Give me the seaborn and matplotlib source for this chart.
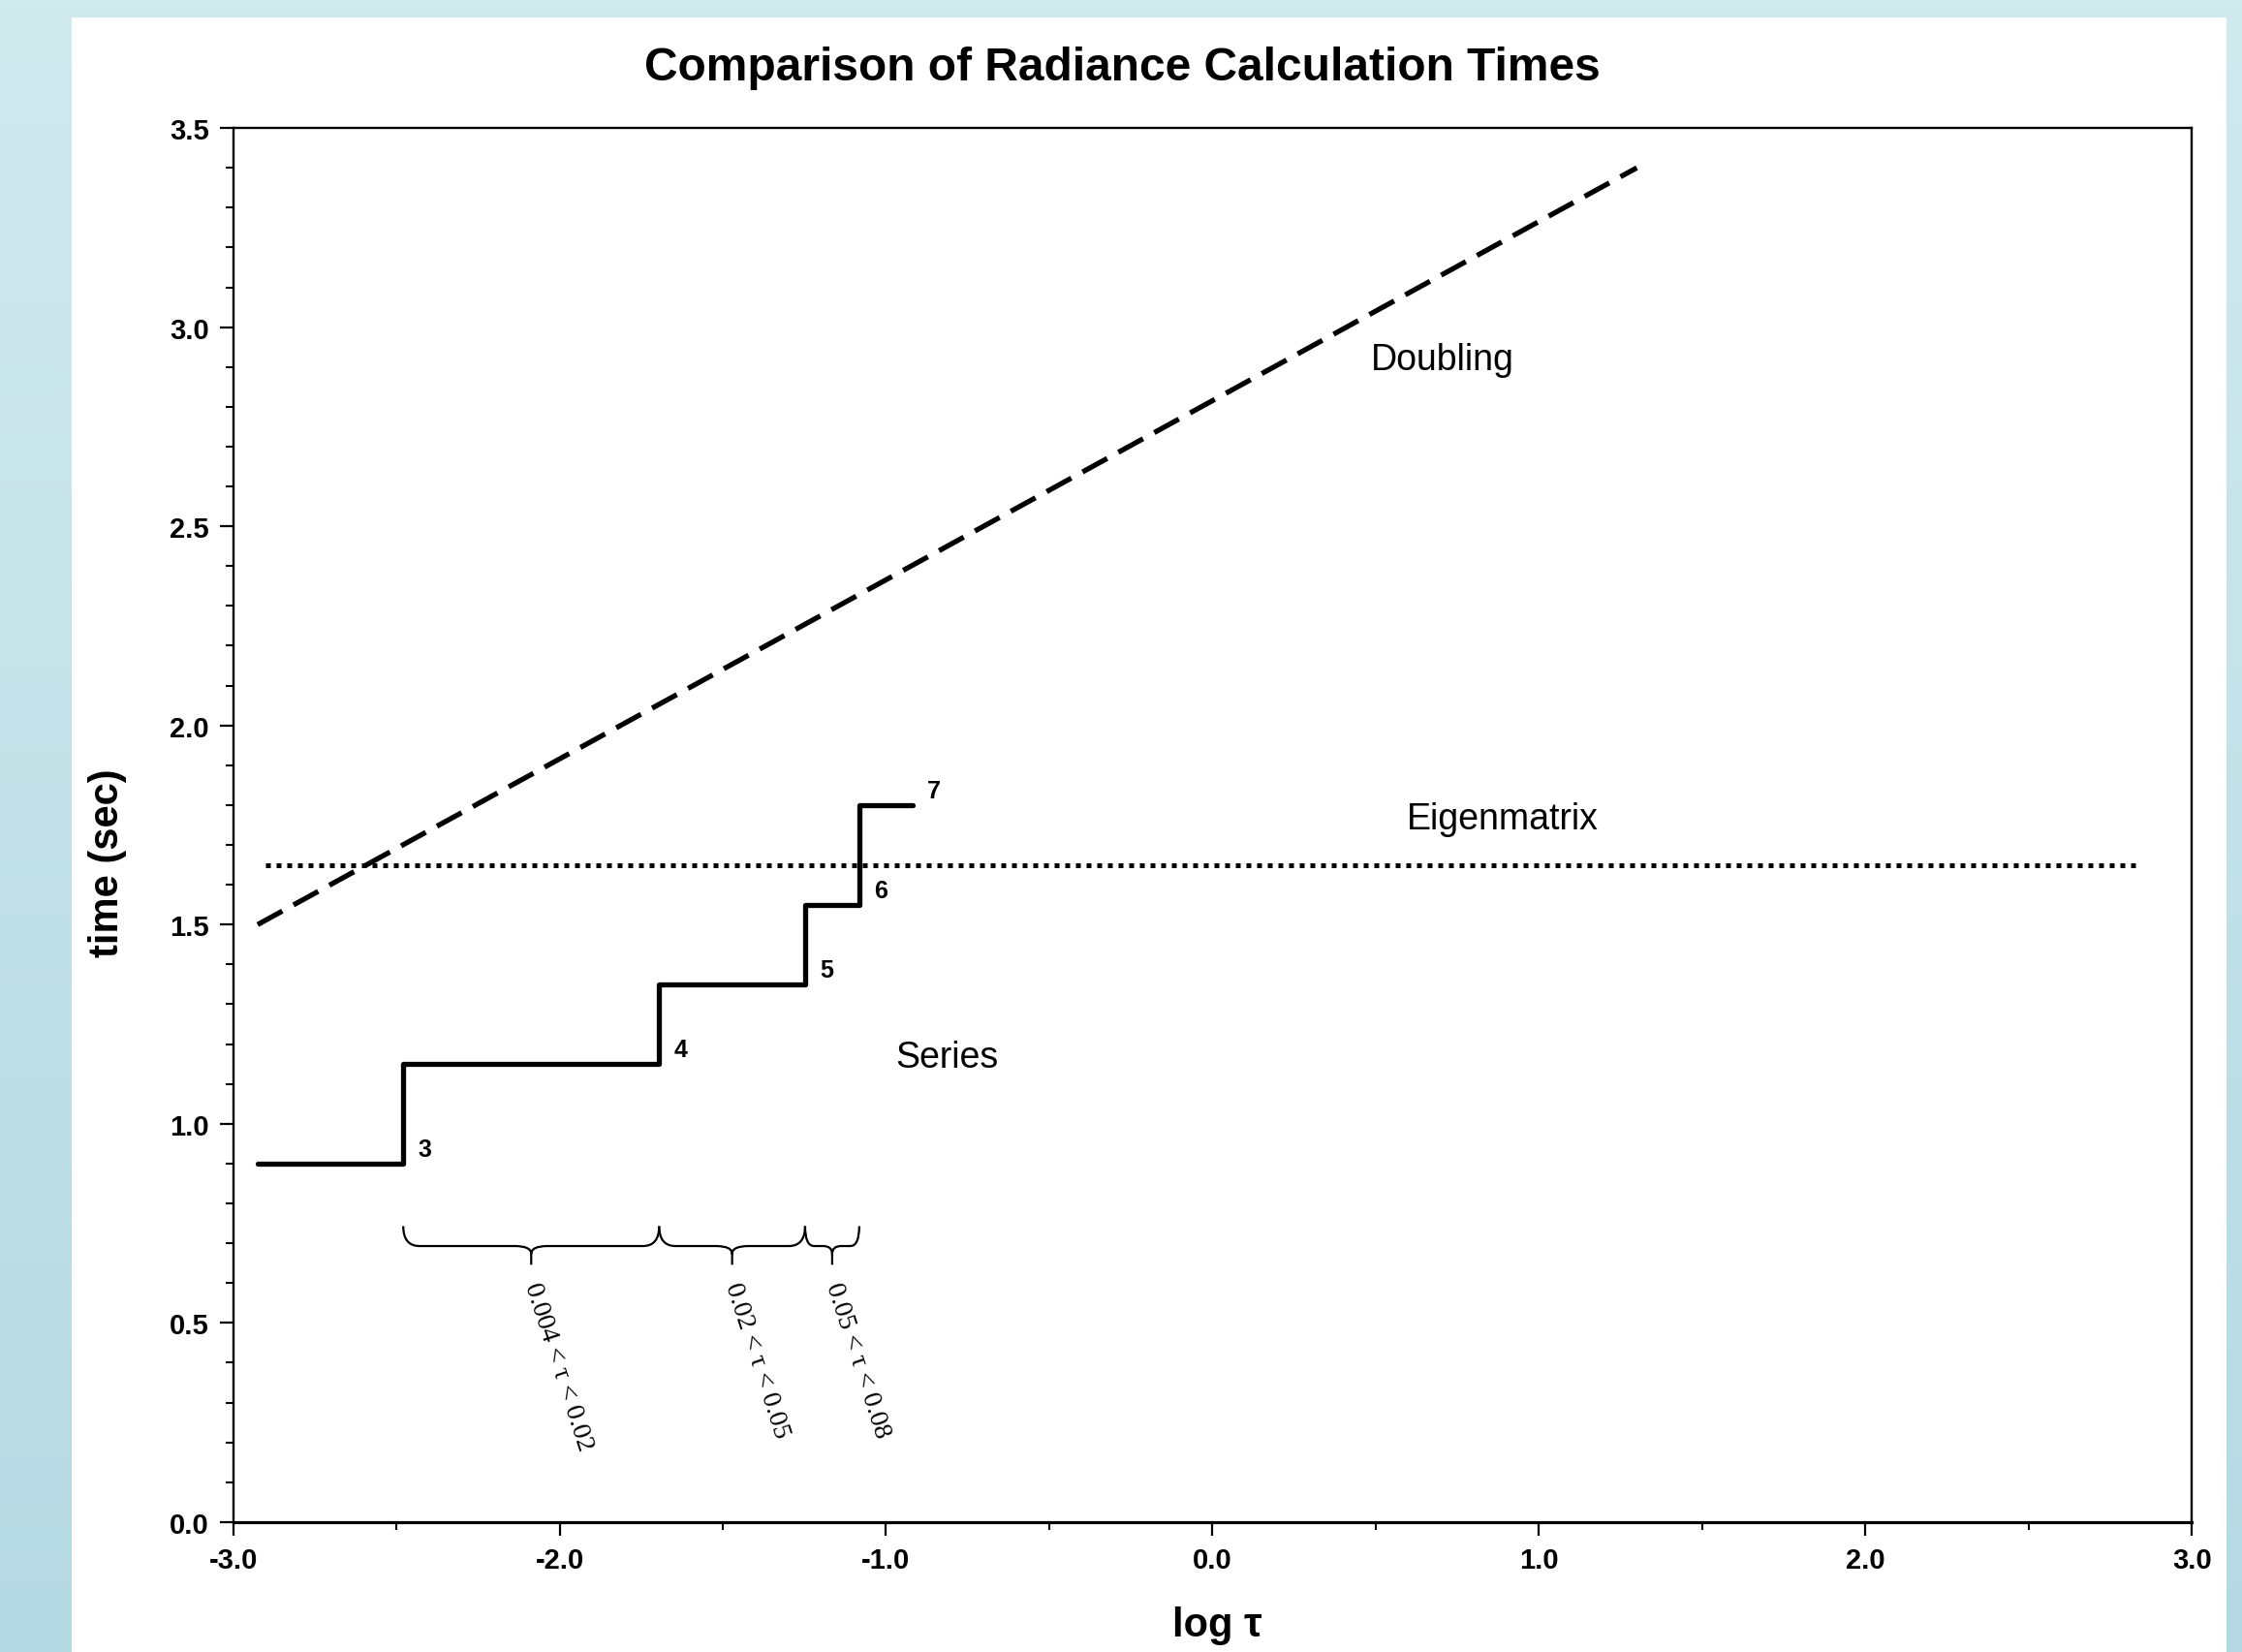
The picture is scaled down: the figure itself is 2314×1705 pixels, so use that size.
import numpy as np
import matplotlib
matplotlib.use("Agg")
import matplotlib.pyplot as plt
from matplotlib.patches import Rectangle
from matplotlib.path import Path
from matplotlib.patches import PathPatch
from matplotlib.colors import LinearSegmentedColormap
import seaborn as sns

# data
doubling_x = [-2.925, 1.30]
doubling_y = [1.50, 3.40]
eigen_x = [-2.90, 2.83]
eigen_y = [1.65, 1.65]
series_edges = [-2.925, -2.479, -1.695, -1.248, -1.082, -0.919]
series_levels = [0.90, 1.15, 1.35, 1.55, 1.80]
series_terms = ["3", "4", "5", "6", "7"]
brace_labels = ["0.004 < τ < 0.02", "0.02 < τ < 0.05", "0.05 < τ < 0.08"]

sns.set_theme(style="ticks")
plt.rcParams["font.family"] = ["Liberation Sans", "DejaVu Sans"]
plt.rcParams["text.color"] = "black"

W, H = 2314, 1706
fig = plt.figure(figsize=(W / 100, H / 100), dpi=100)
fig.patch.set_facecolor("#c9e5eb")

# light blue gradient background + white panel
bg = fig.add_axes([0, 0, 1, 1], zorder=-2)
grad = np.linspace(0, 1, 256).reshape(-1, 1)
cmap = LinearSegmentedColormap.from_list("bgblue", ["#d0eaee", "#b5d9e3"])
bg.imshow(grad, aspect="auto", cmap=cmap, extent=[0, 1, 0, 1])
bg.set_axis_off()
fig.patches.append(Rectangle((74 / W, 0), (2298 - 74) / W, (H - 19) / H,
                             transform=fig.transFigure, facecolor="white",
                             edgecolor="none", zorder=-1))

ax = fig.add_axes([0.1040, 0.0786, 0.9776 - 0.1040, 0.9220 - 0.0786])
ax.set_facecolor("white")

sns.lineplot(x=doubling_x, y=doubling_y, ax=ax, color="black", lw=3.8,
             estimator=None)
ax.lines[-1].set_dashes((5.5, 2.5))
sns.lineplot(x=eigen_x, y=eigen_y, ax=ax, color="black", lw=3.6,
             estimator=None)
ax.lines[-1].set_dashes((1.0, 1.2))
sns.lineplot(x=series_edges, y=series_levels + [series_levels[-1]], ax=ax,
             color="black", lw=3.8, estimator=None, drawstyle="steps-post")

for xe, lv, t in zip(series_edges[1:], series_levels, series_terms):
    ax.text(xe + 0.066, lv + 0.036, t, fontsize=18, fontweight="bold",
            ha="center", va="center")

ax.text(0.706, 2.92, "Doubling", fontsize=27, ha="center", va="center")
ax.text(0.89, 1.766, "Eigenmatrix", fontsize=27, ha="center", va="center")
ax.text(-0.814, 1.167, "Series", fontsize=27, ha="center", va="center")


def brace(x0, x1, ytop=0.743, ymid=0.693, ytip=0.646):
    r = min(0.05, (x1 - x0) / 6)
    xm = (x0 + x1) / 2
    d = 0.02
    verts = [(x0, ytop), (x0, ymid), (x0 + r, ymid),
             (xm - r, ymid),
             (xm, ymid), (xm, ymid - d),
             (xm, ytip), (xm, ymid - d),
             (xm, ymid), (xm + r, ymid),
             (x1 - r, ymid),
             (x1, ymid), (x1, ytop)]
    codes = [Path.MOVETO, Path.CURVE3, Path.CURVE3,
             Path.LINETO,
             Path.CURVE3, Path.CURVE3,
             Path.LINETO, Path.MOVETO,
             Path.CURVE3, Path.CURVE3,
             Path.LINETO,
             Path.CURVE3, Path.CURVE3]
    ax.add_patch(PathPatch(Path(verts, codes), facecolor="none",
                           edgecolor="black", lw=1.6))
    return xm


for i, lab in enumerate(brace_labels):
    xm = brace(series_edges[i + 1], series_edges[i + 2])
    ax.text(xm, 0.60, lab, rotation=-72, rotation_mode="anchor",
            ha="left", va="center", fontsize=20,
            family=["Liberation Serif", "DejaVu Serif"])

ax.set_xlim(-3, 3)
ax.set_ylim(0, 3.5)
ax.set_xticks(np.arange(-3, 3.01, 1.0))
ax.set_xticks(np.arange(-2.5, 3, 1.0), minor=True)
ax.set_yticks(np.arange(0, 3.51, 0.5))
ax.set_yticks(np.arange(0, 3.51, 0.1), minor=True)
ax.set_xticklabels([f"{v:.1f}" for v in np.arange(-3, 3.01, 1.0)])
ax.set_yticklabels([f"{v:.1f}" for v in np.arange(0, 3.51, 0.5)])
ax.tick_params(which="major", length=10, width=1.6, direction="out",
               labelsize=21, pad=8, color="black", labelcolor="black")
ax.tick_params(which="minor", length=6, width=1.5, direction="out",
               color="black")
for lab in ax.get_xticklabels() + ax.get_yticklabels():
    lab.set_fontweight("bold")
for side in ["top", "right", "left"]:
    ax.spines[side].set_visible(True)
    ax.spines[side].set_linewidth(1.7)
    ax.spines[side].set_color("black")
ax.spines["bottom"].set_linewidth(2.3)
ax.spines["bottom"].set_color("black")
ax.grid(False)
ax.set_xlabel("")
ax.set_ylabel("")

fig.text(0.5007, 0.9585, "Comparison of Radiance Calculation Times",
         fontsize=34.5, fontweight="bold", ha="center", va="center")
fig.text(0.0478, 0.478, "time (sec)", fontsize=30, fontweight="bold",
         rotation=90, ha="center", va="center")
fig.text(0.5428, 0.0164, "log τ", fontsize=30, fontweight="bold",
         ha="center", va="center")

fig.savefig("out.png", dpi=100)
